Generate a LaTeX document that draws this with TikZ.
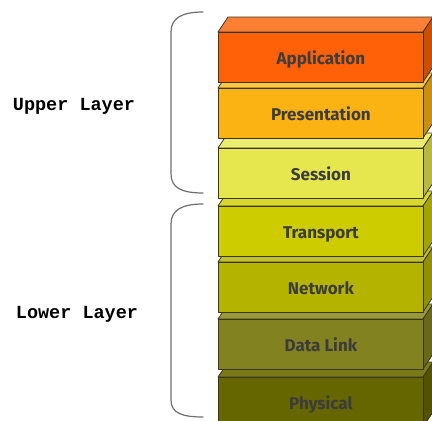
\documentclass[tikz,border=0pt]{standalone}
\usepackage{fontspec}
\newfontfamily\layerfont{Fira Sans}
\newfontfamily\groupfont{Liberation Mono}

% face colours of each layer block: front, top, side
\definecolor{appFront}{HTML}{FF6109}\definecolor{appTop}{HTML}{FF7F35}\definecolor{appSide}{HTML}{CC4E00}
\definecolor{presFront}{HTML}{FBB314}\definecolor{presTop}{HTML}{FFC642}\definecolor{presSide}{HTML}{C98F10}
\definecolor{sessFront}{HTML}{E6E64F}\definecolor{sessTop}{HTML}{ECEC70}\definecolor{sessSide}{HTML}{B8B83F}
\definecolor{tranFront}{HTML}{CCCC00}\definecolor{tranTop}{HTML}{D8D830}\definecolor{tranSide}{HTML}{A3A300}
\definecolor{netwFront}{HTML}{B4B400}\definecolor{netwTop}{HTML}{C0C030}\definecolor{netwSide}{HTML}{909000}
\definecolor{linkFront}{HTML}{828220}\definecolor{linkTop}{HTML}{9A9A38}\definecolor{linkSide}{HTML}{686818}
\definecolor{physFront}{HTML}{666600}\definecolor{physTop}{HTML}{7A7A18}\definecolor{physSide}{HTML}{525200}
\definecolor{edgecol}{HTML}{3A3620}
\definecolor{labelcol}{HTML}{3C3C3C}
\definecolor{bracecol}{HTML}{707070}

\tikzset{
  layerline/.style={draw=edgecol, line width=0.8pt, line join=round},
  frontface/.style={layerline, rectangle, inner sep=0pt, minimum width=205pt,
    minimum height=50pt, anchor=north west, text=labelcol,
    text height=14pt, text depth=0pt,
    font=\layerfont\bfseries\fontsize{17}{17}\selectfont},
  grouplabel/.style={font=\groupfont\bfseries\fontsize{18.5}{18.5}\selectfont, text=black},
  bracket/.style={draw=bracecol, line width=1.2pt, line cap=round}
}

\begin{document}
\begin{tikzpicture}[x=1pt, y=-1pt]
  \fill[white] (0,0) rectangle (432,421);
  \useasboundingbox (0,0) rectangle (432,421);
  \clip (0,0) rectangle (432,421);

  % stack of layers, drawn from the bottom up so each block hides the top of the one below
  \foreach \name/\lbl/\yt in {phys/Physical/377, link/Data Link/319, netw/Network/262,
      tran/Transport/206, sess/Session/148, pres/Presentation/88, app/Application/32} {
    \filldraw[layerline, fill=\name Top] (218,\yt) -- ++(10,-15) -- ++(205,0) -- ++(-10,15) -- cycle;
    \filldraw[layerline, fill=\name Side] (423,\yt) -- ++(10,-15) -- ++(0,50) -- ++(-10,15) -- cycle;
    \node[frontface, fill=\name Front] (\name) at (218,\yt) {\lbl};
  }

  % group brackets
  \draw[bracket] (203,12) .. controls (182,12) and (171,18) .. (171,32)
    -- (171,174) .. controls (171,188) and (182,193) .. (203,193);
  \draw[bracket] (203,204) .. controls (182,204) and (171,210) .. (171,224)
    -- (171,400) .. controls (171,413) and (182,417) .. (203,417);

  \node[grouplabel] (upper) at (74,106) {Upper Layer};
  \node[grouplabel] (lower) at (77,314) {Lower Layer};
\end{tikzpicture}
\end{document}
